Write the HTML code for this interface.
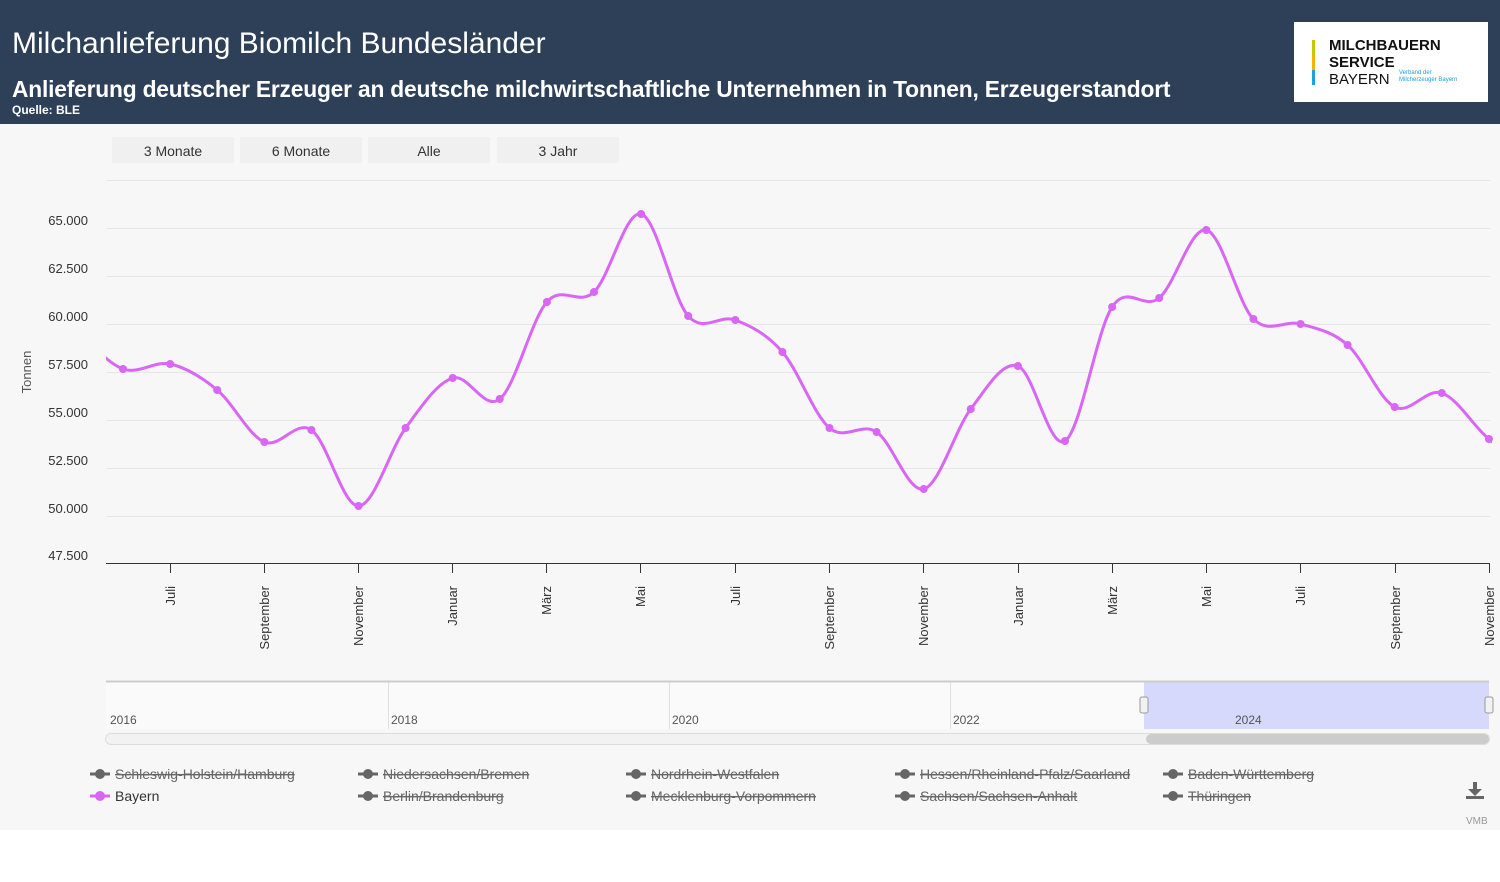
<!DOCTYPE html>
<html><head><meta charset="utf-8"><style>
body{margin:0;width:1500px;height:882px;background:#fff;font-family:"Liberation Sans",sans-serif;overflow:hidden;position:relative}
.hdr{position:absolute;left:0;top:0;width:1500px;height:124px;background:#2d4058;color:#fff}
.t1{position:absolute;left:12px;top:27px;font-size:30px}
.t2{position:absolute;left:12px;top:76px;font-size:22.8px;font-weight:bold;letter-spacing:-0.2px}
.t3{position:absolute;left:12px;top:103px;font-size:12px;font-weight:bold}
.logo{position:absolute;left:1294px;top:22px;width:194px;height:80px;background:#fff}
.chart{position:absolute;left:0;top:124px;width:1500px;height:706px;background:#f7f7f7}
.btn{position:absolute;top:137px;height:26px;width:122px;background:#f0f0f0;font-size:14px;color:#333;text-align:center;line-height:28px}
</style></head><body>
<div class="hdr">
<div class="t1">Milchanlieferung Biomilch Bundesländer</div>
<div class="t2">Anlieferung deutscher Erzeuger an deutsche milchwirtschaftliche Unternehmen in Tonnen, Erzeugerstandort</div>
<div class="t3">Quelle: BLE</div>
<div class="logo">
<div style="position:absolute;left:18px;top:18px;width:3px;height:15px;background:#c8c800"></div>
<div style="position:absolute;left:18px;top:33px;width:3px;height:15px;background:#f5b400"></div>
<div style="position:absolute;left:18px;top:48px;width:3px;height:15px;background:#1fa0e0"></div>
<div style="position:absolute;left:35px;top:15px;font-size:15px;line-height:17px;color:#111;font-weight:bold">MILCHBAUERN<br>SERVICE<br><span style="font-weight:normal">BAYERN</span></div>
<div style="position:absolute;left:105px;top:48px;font-size:6px;line-height:7px;color:#1fa0e0">Verband der<br>Milcherzeuger Bayern</div>
</div>
</div>
<div class="chart"></div>
<div class="btn" style="left:112px">3 Monate</div>
<div class="btn" style="left:240px">6 Monate</div>
<div class="btn" style="left:368px">Alle</div>
<div class="btn" style="left:497px">3 Jahr</div>
<svg id="s" width="1500" height="882" style="position:absolute;left:0;top:0" font-family="Liberation Sans, sans-serif">
<g stroke="#e6e6e6" stroke-width="1">
<line x1="106" x2="1490" y1="180.5" y2="180.5"/>
<line x1="106" x2="1490" y1="228.5" y2="228.5"/>
<line x1="106" x2="1490" y1="276.5" y2="276.5"/>
<line x1="106" x2="1490" y1="324.5" y2="324.5"/>
<line x1="106" x2="1490" y1="372.5" y2="372.5"/>
<line x1="106" x2="1490" y1="420.5" y2="420.5"/>
<line x1="106" x2="1490" y1="468.5" y2="468.5"/>
<line x1="106" x2="1490" y1="516.5" y2="516.5"/>
</g>
<line x1="106" x2="1490" y1="563.5" y2="563.5" stroke="#333"/>
<g font-size="13" fill="#333" text-anchor="end">
<text x="88" y="225">65.000</text><text x="88" y="273">62.500</text><text x="88" y="321">60.000</text>
<text x="88" y="369">57.500</text><text x="88" y="417">55.000</text><text x="88" y="465">52.500</text>
<text x="88" y="513">50.000</text><text x="88" y="560">47.500</text>
</g>
<text transform="translate(31,372) rotate(-90)" font-size="13" fill="#555" text-anchor="middle">Tonnen</text>
<g id="xt" font-size="13" fill="#333"></g>
<path id="ln" fill="none" stroke="#d966f5" stroke-width="3"/>
<g id="mk" fill="#d966f5"></g>
<rect x="106" y="681" width="1383" height="48" fill="#fafafa"/>
<g stroke="#e0e0e0"><line x1="388.5" x2="388.5" y1="681" y2="729"/><line x1="669.5" x2="669.5" y1="681" y2="729"/><line x1="950.5" x2="950.5" y1="681" y2="729"/><line x1="1231.5" x2="1231.5" y1="681" y2="729"/></g>
<rect x="1144" y="681" width="345" height="48" fill="#d6d9fb"/>
<line x1="106" x2="1489" y1="681.5" y2="681.5" stroke="#ccc" stroke-width="2"/>
<g font-size="12" fill="#555"><text x="110" y="724">2016</text><text x="391" y="724">2018</text><text x="672" y="724">2020</text><text x="953" y="724">2022</text><text x="1235" y="724">2024</text></g>
<rect x="1140" y="697" width="8" height="16" rx="2" fill="#f2f2f2" stroke="#999"/>
<rect x="1485" y="697" width="8" height="16" rx="2" fill="#f2f2f2" stroke="#999"/>
<rect x="105.5" y="733.5" width="1384" height="11" rx="5.5" fill="#f2f2f2" stroke="#ddd"/>
<rect x="1146" y="734" width="343" height="10" rx="5" fill="#ccc"/>
<g id="lg" font-size="14"></g>
<text x="1466" y="824" font-size="10" fill="#999">VMB</text>
<g fill="#666"><rect x="1466" y="796" width="18" height="3"/><rect x="1473" y="782" width="4" height="10"/><path d="M1468 789 L1482 789 L1475 796Z"/></g>
</svg>
<script>
var ns="http://www.w3.org/2000/svg";
function el(t,a,p,txt){var e=document.createElementNS(ns,t);for(var k in a)e.setAttribute(k,a[k]);if(txt)e.textContent=txt;document.getElementById(p).appendChild(e);return e;}
var lab=["Juli","September","November","Januar","März","Mai","Juli","September","November","Januar","März","Mai","Juli","September","November"];
var tx=[170,264,358,452,546,640,735,829,923,1018,1112,1206,1300,1395,1489];
tx.forEach(function(x,i){el("line",{x1:x+0.5,x2:x+0.5,y1:563,y2:573,stroke:"#333"},"xt");el("text",{transform:"translate("+(x+5)+",586) rotate(-90)","text-anchor":"end"},"xt",lab[i]);});
var ys=[369,364,390,442,430,506,428,378,399,302,292,214,316,320,352,428,432,489,409,366,441,307,298,230,319,324,345,407,393,439];
var pts=[];ys.forEach(function(y,i){pts.push([123+i*47.1,y]);});
var all=[[76,330]].concat(pts);all.push([1536,470]);
var d="M"+all[0][0]+","+all[0][1];
for(var i=0;i<all.length-1;i++){var p0=all[Math.max(0,i-1)],p1=all[i],p2=all[i+1],p3=all[Math.min(all.length-1,i+2)];
var c1=[p1[0]+(p2[0]-p0[0])/6,p1[1]+(p2[1]-p0[1])/6],c2=[p2[0]-(p3[0]-p1[0])/6,p2[1]-(p3[1]-p1[1])/6];
d+=" C"+c1+" "+c2+" "+p2;}
var cp=el("clipPath",{id:"cp"},"s");var r=document.createElementNS(ns,"rect");r.setAttribute("x",106);r.setAttribute("y",150);r.setAttribute("width",1386);r.setAttribute("height",420);cp.appendChild(r);
var ln=document.getElementById("ln");ln.setAttribute("d",d);ln.setAttribute("clip-path","url(#cp)");
pts.forEach(function(p){el("circle",{cx:p[0],cy:p[1],r:4},"mk");});
var L=[["Schleswig-Holstein/Hamburg",90,774],["Niedersachsen/Bremen",358,774],["Nordrhein-Westfalen",626,774],["Hessen/Rheinland-Pfalz/Saarland",895,774],["Baden-Württemberg",1163,774],["Bayern",90,796,1],["Berlin/Brandenburg",358,796],["Mecklenburg-Vorpommern",626,796],["Sachsen/Sachsen-Anhalt",895,796],["Thüringen",1163,796]];
L.forEach(function(l){var c=l[3]?"#d966f5":"#666";el("line",{x1:l[1],x2:l[1]+20,y1:l[2],y2:l[2],stroke:c,"stroke-width":3},"lg");el("circle",{cx:l[1]+10,cy:l[2],r:5,fill:c},"lg");
el("text",{x:l[1]+25,y:l[2]+5,fill:l[3]?"#333":"#666","text-decoration":l[3]?"none":"line-through"},"lg",l[0]);});
</script>
</body></html>
